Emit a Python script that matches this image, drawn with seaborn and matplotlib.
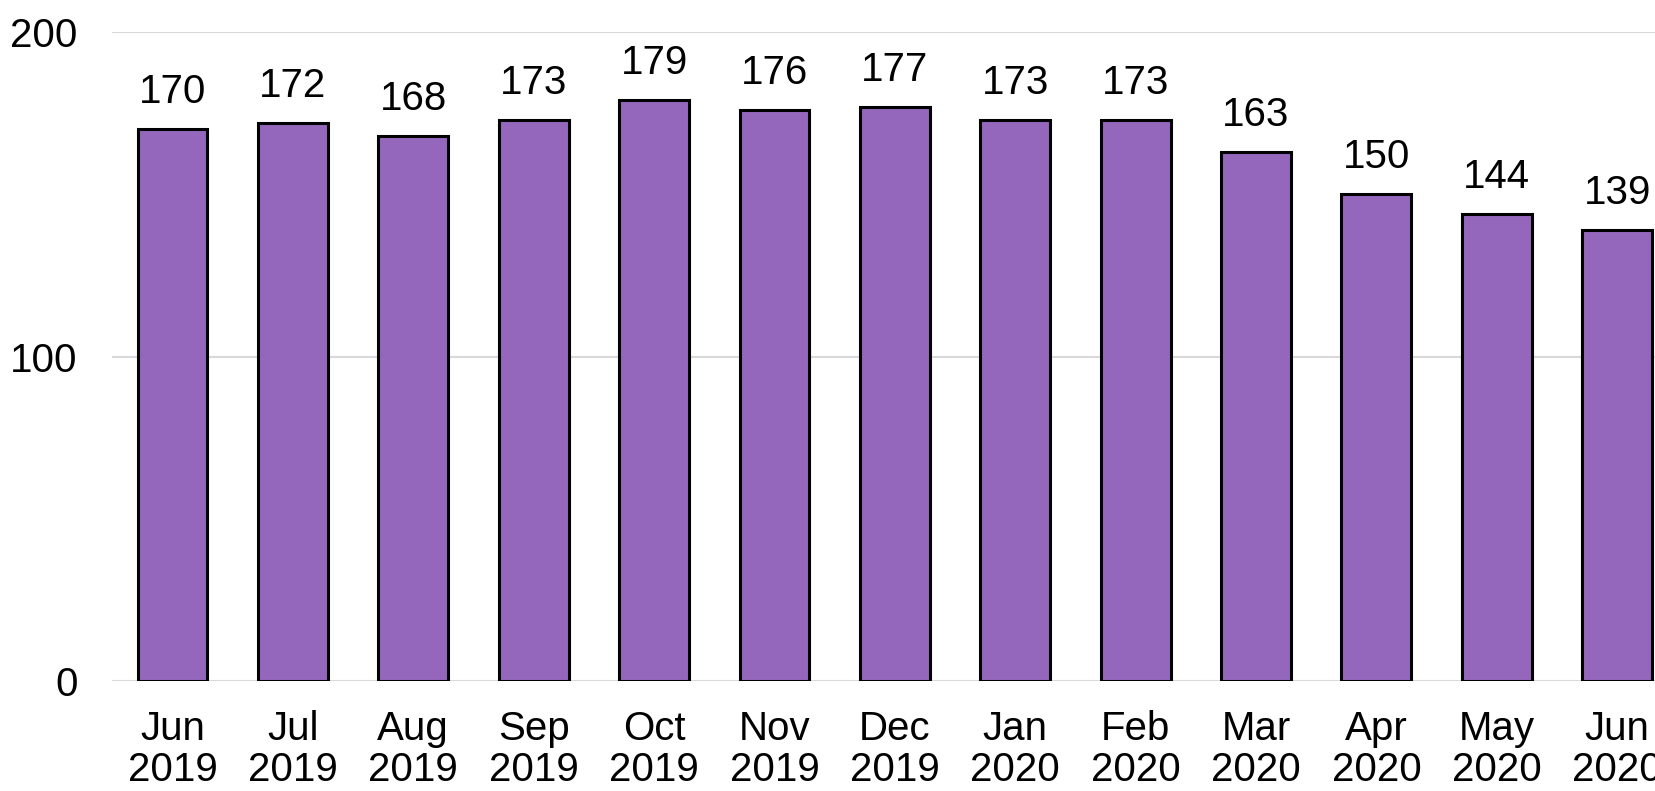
import matplotlib
matplotlib.use('Agg')
import matplotlib.pyplot as plt
import pandas as pd
import seaborn as sns

months = ['Jun\n2019', 'Jul\n2019', 'Aug\n2019', 'Sep\n2019', 'Oct\n2019', 'Nov\n2019', 'Dec\n2019',
          'Jan\n2020', 'Feb\n2020', 'Mar\n2020', 'Apr\n2020', 'May\n2020', 'Jun\n2020']
values = [170, 172, 168, 173, 179, 176, 177, 173, 173, 163, 150, 144, 139]
y_ticks = [0, 100, 200]

BAR_COLOR = '#9467bd'

sns.set_style('white')
plt.rcParams['font.family'] = ['Liberation Sans', 'DejaVu Sans']
plt.rcParams['text.color'] = 'black'
plt.rcParams['xtick.color'] = 'black'
plt.rcParams['ytick.color'] = 'black'

df = pd.DataFrame({'month': months, 'value': values})

fig = plt.figure(figsize=(16.56, 7.91), dpi=100)
# the right part of the plot area runs past the figure edge, as in the reference
ax = fig.add_axes([0.0678, 0.139, 0.9451, 0.8205])

sns.barplot(data=df, x='month', y='value', color=BAR_COLOR, saturation=1,
            width=0.58, edgecolor='black', linewidth=2.2, ax=ax, zorder=3)

ax.set_ylim(0, 200)
ax.set_xlim(-0.5, len(months) - 0.5)
ax.set_yticks(y_ticks)
ax.yaxis.grid(True, color='#d9d9d9', linewidth=1.5, zorder=0)
ax.set_axisbelow(True)
sns.despine(ax=ax, left=True, bottom=True)

ax.set_xlabel('')
ax.set_ylabel('')
ax.tick_params(axis='y', length=0, pad=25, labelsize=29, labelcolor='black')
ax.tick_params(axis='x', length=0, pad=21, labelsize=29, labelcolor='black')
for t in ax.get_xticklabels():
  t.set_linespacing(1.1)

ax.bar_label(ax.containers[0], labels=[str(v) for v in values], padding=13,
             fontsize=29, color='black', clip_on=False)

fig.savefig('out.png', dpi=100)
